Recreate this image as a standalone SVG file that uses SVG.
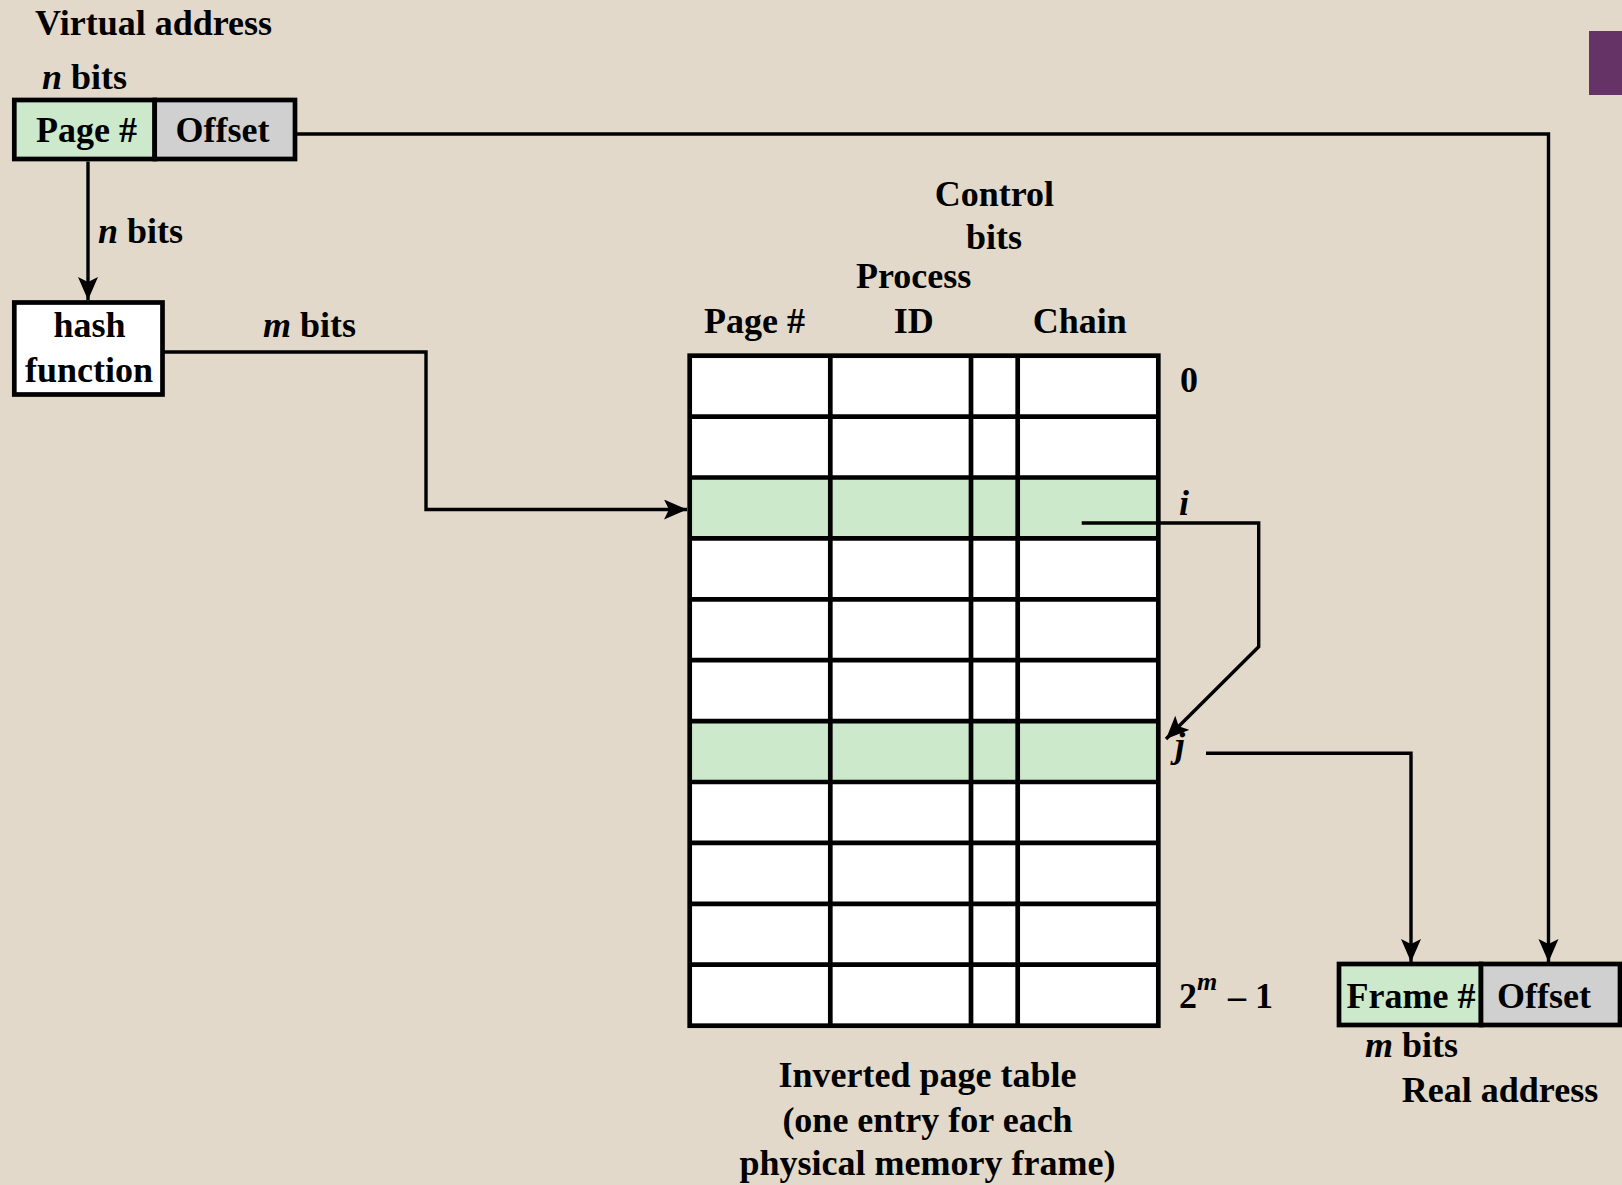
<svg xmlns="http://www.w3.org/2000/svg" width="1622" height="1185" viewBox="0 0 1622 1185">
<defs>
<style>
.t{font-family:"Liberation Serif","Times New Roman",serif;font-weight:bold;font-size:36px;fill:#000}
.it{font-style:italic}
.box{stroke:#000;stroke-width:4.7}
.green{fill:#cce9cb}
.gray{fill:#d0d0d0}
.white{fill:#fff}
.conn{fill:none;stroke:#000;stroke-width:3.4}
.grid{stroke:#000;stroke-width:4.7;fill:none}
</style>
<marker id="ah" markerUnits="userSpaceOnUse" markerWidth="26" markerHeight="22" refX="23" refY="10" orient="auto">
<path d="M0,0 L23,10 L0,20 L5,10 z" fill="#000"/>
</marker>
</defs>
<rect width="1622" height="1185" fill="#e2d9ca"/>
<rect x="1589" y="31" width="33" height="64" fill="#663366"/>

<g id="virtual-address">
<text class="t" x="35" y="34.5">Virtual address</text>
<text class="t" x="42" y="88.5"><tspan class="it">n</tspan> bits</text>
<rect class="box green" x="14.3" y="100" width="140.4" height="59"/>
<rect class="box gray" x="154.7" y="100" width="140.3" height="59"/>
<text class="t" x="86.5" y="141.7" text-anchor="middle">Page #</text>
<text class="t" x="222.5" y="141.7" text-anchor="middle">Offset</text>
</g>

<g id="hash-function">
<rect class="box white" x="14.3" y="302.5" width="148.2" height="92"/>
<text class="t" x="89.5" y="336.7" text-anchor="middle">hash</text>
<text class="t" x="89" y="381.7" text-anchor="middle">function</text>
</g>

<g id="inverted-page-table">
<rect x="689.7" y="355.7" width="468.6" height="670" fill="#fff"/>
<rect class="green" x="689.7" y="477.5" width="468.6" height="60.9"/>
<rect class="green" x="689.7" y="721.1" width="468.6" height="60.9"/>
<path class="grid" d="M689.7,416.6H1158.3M689.7,477.5H1158.3M689.7,538.4H1158.3M689.7,599.3H1158.3M689.7,660.2H1158.3M689.7,721.1H1158.3M689.7,782H1158.3M689.7,842.9H1158.3M689.7,903.8H1158.3M689.7,964.7H1158.3M830.3,355.7V1025.7M971,355.7V1025.7M1017.7,355.7V1025.7"/>
<rect class="grid" x="689.7" y="355.7" width="468.6" height="670"/>
<text class="t" x="994.4" y="205.7" text-anchor="middle">Control</text>
<text class="t" x="994" y="249.3" text-anchor="middle">bits</text>
<text class="t" x="913.7" y="287.7" text-anchor="middle">Process</text>
<text class="t" x="754.6" y="332.7" text-anchor="middle">Page #</text>
<text class="t" x="913.7" y="332.7" text-anchor="middle">ID</text>
<text class="t" x="1079.8" y="332.7" text-anchor="middle">Chain</text>
<text class="t" x="1180" y="391.7">0</text>
<text class="t it" x="1179" y="515">i</text>
<text class="t it" x="1175" y="757">j</text>
<text class="t" x="1179" y="1008.3">2<tspan class="it" x="1197" y="990" font-size="26">m</tspan><tspan x="1228" y="1008.3">– 1</tspan></text>
<text class="t" x="927.5" y="1087.3" text-anchor="middle">Inverted page table</text>
<text class="t" x="927.5" y="1131.7" text-anchor="middle">(one entry for each</text>
<text class="t" x="927.5" y="1175" text-anchor="middle">physical memory frame)</text>
</g>

<g id="real-address">
<rect class="box green" x="1339" y="964" width="142" height="61"/>
<rect class="box gray" x="1481" y="964" width="139" height="61"/>
<text class="t" x="1411" y="1008.3" text-anchor="middle">Frame #</text>
<text class="t" x="1544" y="1008.3" text-anchor="middle">Offset</text>
<text class="t" x="1365" y="1056.7"><tspan class="it">m</tspan> bits</text>
<text class="t" x="1500" y="1102" text-anchor="middle">Real address</text>
</g>

<g id="connectors">
<path class="conn" d="M88,161.5V300" marker-end="url(#ah)"/>
<text class="t" x="98" y="243.3"><tspan class="it">n</tspan> bits</text>
<path class="conn" d="M162.5,352H426V509.5H687" marker-end="url(#ah)"/>
<text class="t" x="263" y="336.7"><tspan class="it">m</tspan> bits</text>
<path class="conn" d="M1081.7,523H1258.7V646.7L1166,739" marker-end="url(#ah)"/>
<path class="conn" d="M1206,753.3H1411V962" marker-end="url(#ah)"/>
<path class="conn" d="M297,134H1548.5V962" marker-end="url(#ah)"/>
</g>
</svg>
